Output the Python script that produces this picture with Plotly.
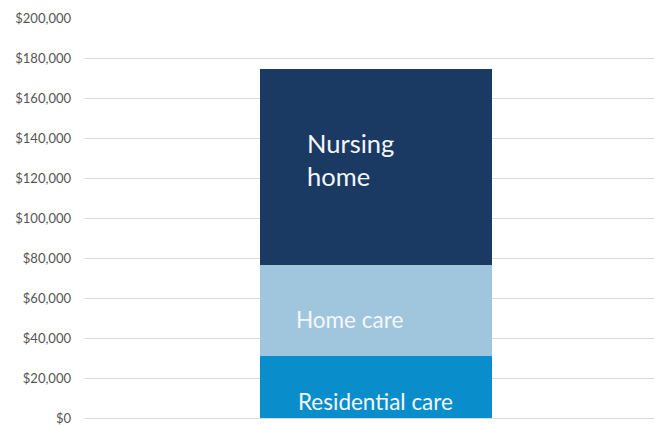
import plotly.graph_objects as go

# Annual cost of care by setting (stacked, bottom to top)
segments = ["Residential care", "Home care", "Nursing home"]
costs = [31000, 45500, 98000]
colors = ["#0a8dcb", "#9fc6dd", "#1b3a63"]
label_text = ["Residential care", "Home care", "Nursing<br>home"]

y_ticks = list(range(0, 200001, 20000))
y_tick_text = [f"${v:,}" for v in y_ticks]

fig = go.Figure()
for name, val, col in zip(segments, costs, colors):
    fig.add_trace(go.Bar(
        x=[0], y=[val], name=name, marker=dict(color=col, line=dict(width=0)),
        width=0.408, showlegend=False, hoverinfo="skip",
    ))

# Segment labels placed inside each block
bottoms = [sum(costs[:i]) for i in range(len(costs))]
label_pos = [
    (0.0, bottoms[0] + costs[0] * 0.27, "center", 22.5),
    (-0.046, bottoms[1] + costs[1] * 0.40, "center", 22.5),
    (-0.125, bottoms[2] + costs[2] * 0.54, "left", 25.5),
]
for txt, (xp, yp, align, size) in zip(label_text, label_pos):
    fig.add_annotation(
        x=xp, y=yp, xref="x", yref="y", text=txt, showarrow=False,
        xanchor="left" if align == "left" else "center", align=align,
        font=dict(family="Lato", size=size, color="#f4f7fa"),
    )

fig.update_layout(
    width=655, height=425,
    margin=dict(l=85, r=1, t=18, b=7),
    paper_bgcolor="white", plot_bgcolor="white",
    barmode="stack", bargap=0,
    xaxis=dict(range=[-0.5114, 0.4886], showticklabels=False, showgrid=False,
               zeroline=False, showline=False, ticks="", automargin=False),
    yaxis=dict(range=[0, 200000], tickmode="array", tickvals=y_ticks, ticktext=y_tick_text,
               showgrid=True, gridcolor="#d9d9d9", gridwidth=1,
               zeroline=True, zerolinecolor="#d9d9d9", zerolinewidth=1,
               ticks="", ticklabelstandoff=13, ticklabeloverflow="allow", automargin=False,
               tickfont=dict(family="Lato", size=13, color="#555555")),
)

fig.write_html("out.html")
